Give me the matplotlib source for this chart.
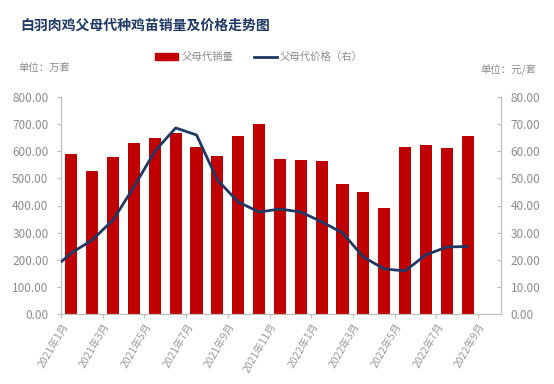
import numpy as np
import matplotlib.pyplot as plt
from matplotlib.patches import Patch
from matplotlib.lines import Line2D

plt.rcParams['font.family'] = ['Noto Sans CJK SC', 'DejaVu Sans']

# 数据
months = ['2021年1月', '2021年3月', '2021年5月', '2021年7月', '2021年9月', '2021年11月',
          '2022年1月', '2022年3月', '2022年5月', '2022年7月', '2022年9月']
sales = [590, 527, 579, 631, 649, 666, 616, 582, 656, 700,
         571, 568, 564, 479, 450, 391, 616, 623, 612, 656]
# 价格：起点 + 每月
price_start = 19.2
price = [22.5, 27.3, 34.7, 46.9, 60.0, 68.6, 66.0, 49.4, 41.3, 37.6,
         38.7, 37.6, 34.0, 29.9, 21.0, 16.6, 15.9, 21.8, 24.7, 24.9]

bar_red = '#C00000'
line_blue = '#1F3864'
grey = '#8C8C8C'
axis_grey = '#BFBFBF'

fig = plt.figure(figsize=(5.54, 3.84), dpi=100)
ax = fig.add_axes([61 / 554, 70 / 384, 440 / 554, 217 / 384])
ax2 = ax.twinx()

x = np.arange(len(sales)) + 0.5
ax.bar(x, sales, width=0.58, color=bar_red, zorder=2)
ax2.plot(np.concatenate([[0], x]), [price_start] + price, color=line_blue, lw=2.0,
         solid_joinstyle='round', solid_capstyle='round', zorder=3)

ax.set_xlim(0, 21.1)
ax.set_ylim(0, 800)
ax2.set_ylim(0, 80)
ax.set_yticks(np.arange(0, 801, 100))
ax2.set_yticks(np.arange(0, 81, 10))
ax.set_yticklabels([f'{v:.2f}' for v in np.arange(0, 801, 100)])
ax2.set_yticklabels([f'{v:.2f}' for v in np.arange(0, 81, 10)])
ax.set_xticks(np.arange(0, 21, 2))
ax.set_xticklabels(months, rotation=60, ha='right', rotation_mode='anchor')

for a in (ax, ax2):
    a.spines['top'].set_visible(False)
    for s in ('left', 'right', 'bottom'):
        a.spines[s].set_color(axis_grey)
        a.spines[s].set_linewidth(0.8)
    a.tick_params(colors=axis_grey, labelcolor=grey, labelsize=8.5, length=3, width=0.8)
ax.tick_params(axis='y', pad=6)
ax2.tick_params(axis='y', direction='in', pad=7)
ax.tick_params(axis='x', labelsize=7.5, pad=2, labelcolor='#9A9A9A')

fig.text(20 / 554, 1 - 26 / 384, '白羽肉鸡父母代种鸡苗销量及价格走势图', fontsize=10,
         fontweight='bold', color=line_blue, va='center')
fig.text(18 / 554, 1 - 68 / 384, '单位：万套', fontsize=7.5, color=grey, va='center')
fig.text(536 / 554, 1 - 70 / 384, '单位：元/套', fontsize=7.5, color=grey, va='center', ha='right')

handles = [Patch(color=bar_red), Line2D([0], [0], color=line_blue, lw=2.0)]
fig.legend(handles, ['父母代销量', '父母代价格（右）'], loc='center', ncol=2,
           bbox_to_anchor=(259 / 554, 1 - 57 / 384), frameon=False, fontsize=7.5,
           labelcolor=grey, handlelength=2.2, handleheight=0.6, columnspacing=2.0,
           handletextpad=0.3)

fig.savefig('out.png', dpi=100)
